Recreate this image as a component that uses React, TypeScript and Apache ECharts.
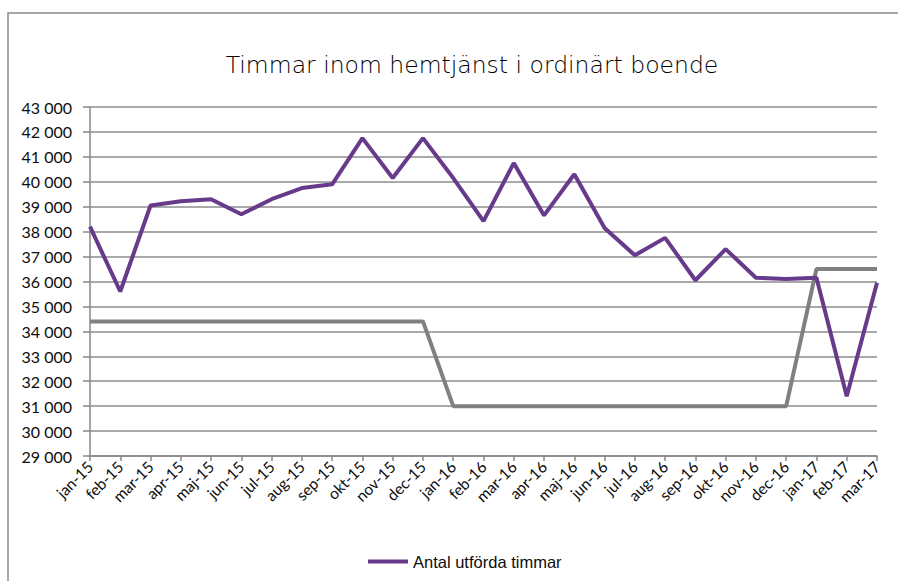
import React, { useEffect, useRef } from "react";
import * as echarts from "echarts";

const categories = [
  "jan-15", "feb-15", "mar-15", "apr-15", "maj-15", "jun-15", "jul-15", "aug-15", "sep-15",
  "okt-15", "nov-15", "dec-15", "jan-16", "feb-16", "mar-16", "apr-16", "maj-16", "jun-16",
  "jul-16", "aug-16", "sep-16", "okt-16", "nov-16", "dec-16", "jan-17", "feb-17", "mar-17",
];

const utfordaTimmar = [
  38200, 35600, 39050, 39220, 39300, 38700, 39300, 39750, 39900,
  41750, 40150, 41750, 40150, 38420, 40750, 38650, 40300, 38150,
  37050, 37750, 36050, 37300, 36150, 36100, 36150, 31400, 35950,
];

const budget = [
  34400, 34400, 34400, 34400, 34400, 34400, 34400, 34400, 34400,
  34400, 34400, 34400, 31000, 31000, 31000, 31000, 31000, 31000,
  31000, 31000, 31000, 31000, 31000, 31000, 36500, 36500, 36500,
];

const yMin = 29000;
const yMax = 43000;
const yInterval = 1000;

const fmt = (v: number) => {
  const s = String(Math.round(v));
  return s.replace(/\B(?=(\d{3})+(?!\d))/g, " ");
};

export default function App() {
  const ref = useRef<HTMLDivElement>(null);
  useEffect(() => {
    document.body.style.margin = "0";
    const chart = echarts.init(ref.current!, null, { renderer: "svg" });
    chart.setOption({
      animation: false,
      backgroundColor: "#ffffff",
      title: {
        text: "Timmar inom hemtjänst i ordinärt boende",
        left: 467,
        top: 48,
        textAlign: "center",
        textStyle: {
          fontFamily: "DejaVu Sans",
          fontWeight: 200,
          fontSize: 23.5,
          color: "#000000",
        },
      },
      graphic: [
        {
          type: "rect",
          shape: { x: 8, y: 13, width: 900, height: 600 },
          style: { fill: "none", stroke: "#8a8a8a", lineWidth: 1.5 },
          silent: true,
        },
      ],
      legend: {
        data: ["Antal utförda timmar"],
        left: 363,
        top: 548,
        itemWidth: 40,
        itemHeight: 4,
        icon: "rect",
        textStyle: { fontFamily: "Liberation Sans", fontSize: 16.5, color: "#0d0d0d" },
      },
      grid: { left: 90, right: 21, top: 107, bottom: 125, containLabel: false },
      xAxis: {
        type: "category",
        data: categories,
        boundaryGap: false,
        axisLine: { lineStyle: { color: "#888888", width: 1.5 } },
        axisTick: { show: true, alignWithLabel: true, length: 5, lineStyle: { color: "#888888", width: 1.5 } },
        axisLabel: {
          interval: 0,
          rotate: 45,
          margin: 8,
          fontFamily: "Lato",
          fontSize: 15.5,
          color: "#0d0d0d",
        },
      },
      yAxis: {
        type: "value",
        min: yMin,
        max: yMax,
        interval: yInterval,
        axisLine: { show: true, lineStyle: { color: "#888888", width: 1.5 } },
        axisTick: { show: true, length: 7, lineStyle: { color: "#888888", width: 1.5 } },
        splitLine: { lineStyle: { color: "#8c8c8c", width: 1.5 } },
        axisLabel: {
          formatter: (v: number) => fmt(v),
          margin: 18,
          fontFamily: "Lato",
          fontSize: 16,
          color: "#0d0d0d",
        },
      },
      series: [
        {
          name: "Budget",
          type: "line",
          data: budget,
          symbol: "none",
          lineStyle: { color: "#808080", width: 4 },
          itemStyle: { color: "#808080" },
          z: 2,
        },
        {
          name: "Antal utförda timmar",
          type: "line",
          data: utfordaTimmar,
          symbol: "none",
          lineStyle: { color: "#673a8c", width: 4 },
          itemStyle: { color: "#673a8c" },
          z: 3,
        },
      ],
    });
    return () => chart.dispose();
  }, []);
  return <div ref={ref} style={{ width: 898, height: 581 }} />;
}
